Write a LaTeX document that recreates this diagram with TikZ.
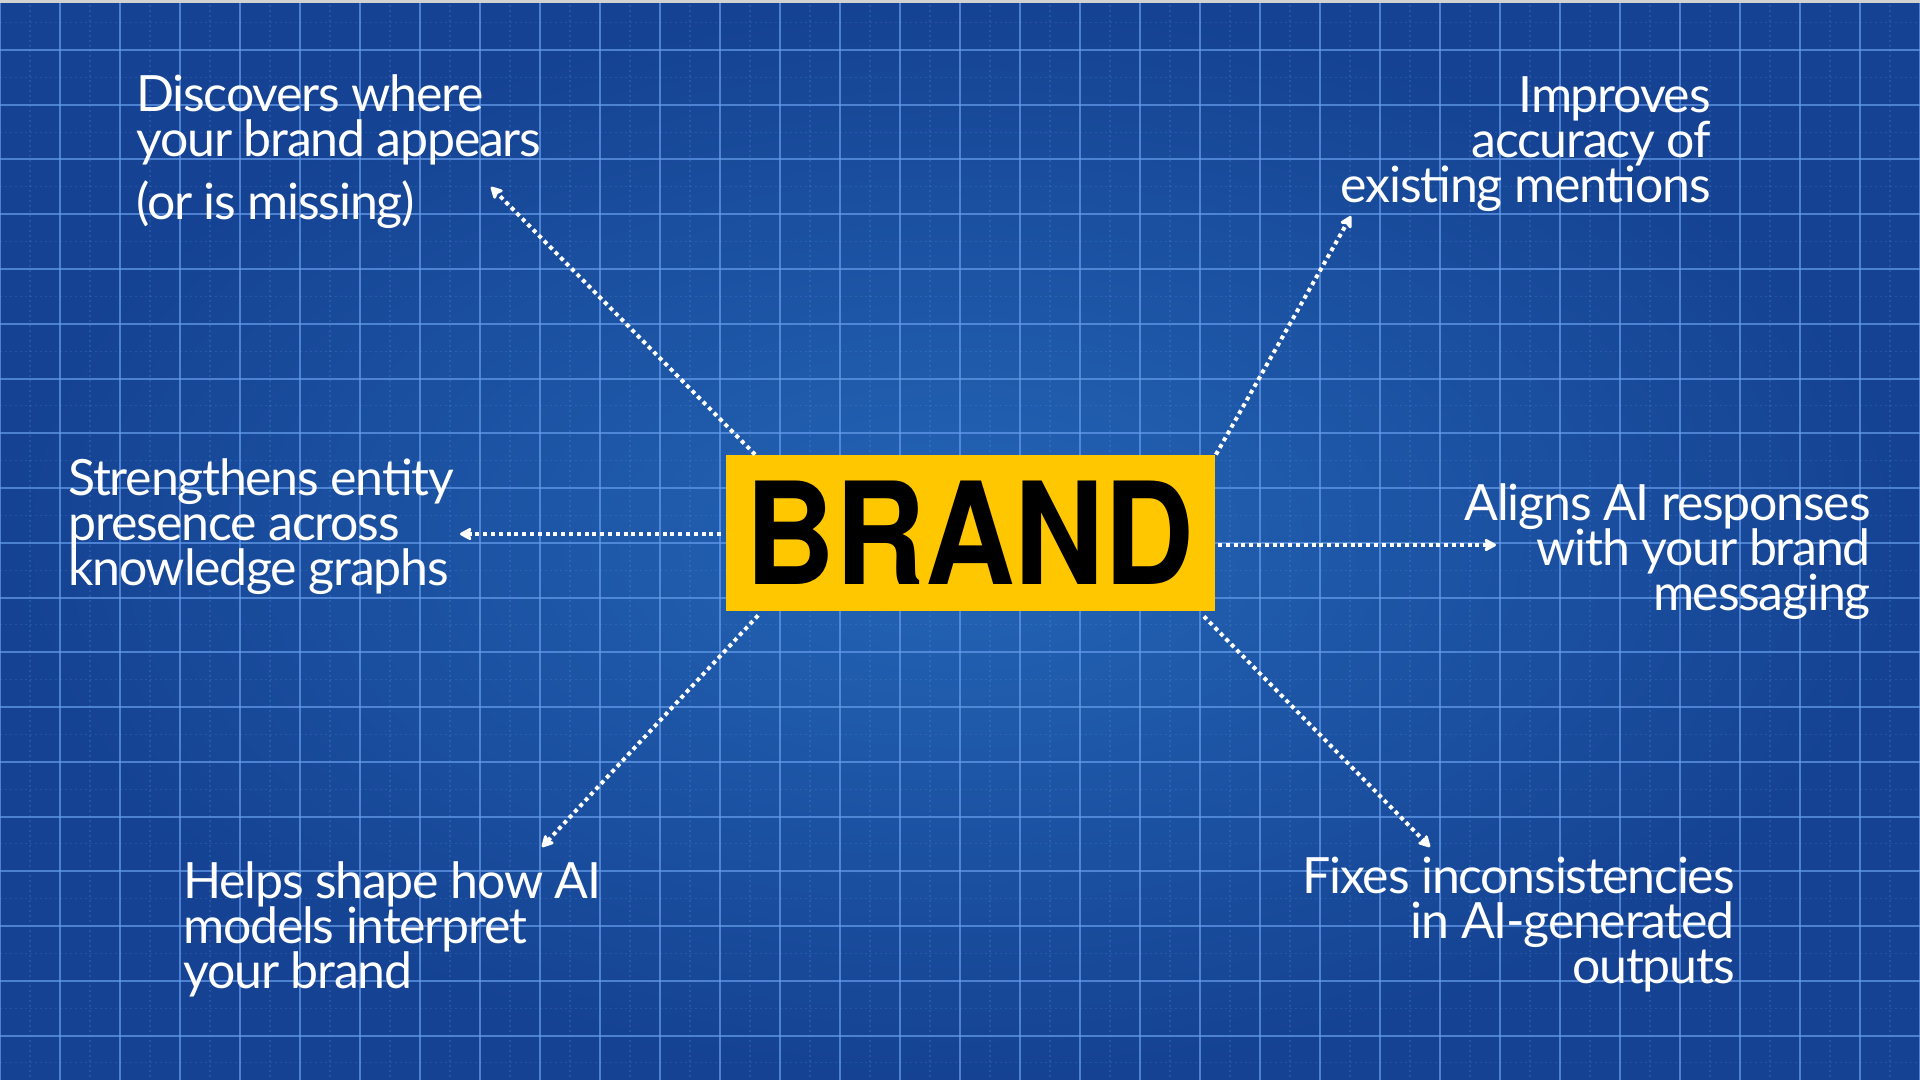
\documentclass[tikz,border=0pt]{standalone}
\usepackage{fontspec}
\usepackage{graphicx}
\setmainfont{Lato}[LetterSpace=-2.5]
\newfontfamily\brandfont{TeX Gyre Heros}
\usetikzlibrary{arrows.meta,calc}
\definecolor{bgin}{RGB}{36,101,182}
\definecolor{bgout}{RGB}{21,66,146}
\definecolor{gridc}{RGB}{100,155,235}
\definecolor{brandyellow}{RGB}{255,199,0}
\newcommand\sm[1]{\smash{#1}}
\tikzset{
  majorline/.style={draw=gridc, line width=1pt, opacity=0.7},
  minorline/.style={draw=gridc, line width=0.6pt, opacity=0.2, dash pattern=on 1pt off 1.5pt},
  lbl/.style={text=white, inner sep=0pt, font=\fontsize{25}{22.5}\selectfont},
  dotarrow/.style={draw=white, line width=2pt, dash pattern=on 2pt off 1.9pt,
    -{Stealth[length=7pt,width=7.5pt,inset=1.5pt,round]}},
  brandbox/.style={fill=brandyellow, inner sep=0pt, minimum width=244.5pt, minimum height=78pt,
    text=black, font=\brandfont\bfseries\fontsize{71}{71}\selectfont}
}
\begin{document}
\begin{tikzpicture}[x=0.5pt,y=-0.5pt]
\useasboundingbox (0,0) rectangle (1920,1080);
\shade[inner color=bgin, outer color=bgout] (0,0) rectangle (1920,1080);
% minor grid
\foreach \i in {0,...,31} \draw[minorline] (30+\i*60,0) -- (30+\i*60,1080);
\foreach \j in {-1,...,18} \draw[minorline] (0,77.375+\j*54.75) -- (1920,77.375+\j*54.75);
% major grid
\foreach \i in {0,...,32} \draw[majorline] (\i*60,0) -- (\i*60,1080);
\foreach \j in {0,...,18} \draw[majorline] (0,50+\j*54.75) -- (1920,50+\j*54.75);
\fill[gray!35] (0,0) rectangle (1920,3);

% central box
\node[brandbox] (brand) at (970,533) {\scalebox{0.875}[1]{BRAND}};

% labels
\node[lbl, anchor=base west] (tl) at (136,112)
  {\begin{tabular}[t]{@{}l@{}}\sm{Discovers where}\\\sm{your brand appears}\\[9pt]\sm{(or is missing)}\end{tabular}};
\node[lbl, anchor=base east] (tr) at (1711,113)
  {\begin{tabular}[t]{@{}r@{}}\sm{Improves}\\\sm{accuracy of}\\\sm{existing mentions}\end{tabular}};
\node[lbl, anchor=base west] (ml) at (68,495)
  {\begin{tabular}[t]{@{}l@{}}\sm{Strengthens entity}\\\sm{presence across}\\\sm{knowledge graphs}\end{tabular}};
\node[lbl, anchor=base east] (mr) at (1871,520)
  {\begin{tabular}[t]{@{}r@{}}\sm{Aligns AI responses}\\\sm{with your brand}\\\sm{messaging}\end{tabular}};
\node[lbl, anchor=base west] (bl) at (183,898)
  {\begin{tabular}[t]{@{}l@{}}\sm{Helps shape how AI}\\\sm{models interpret}\\\sm{your brand}\end{tabular}};
\node[lbl, anchor=base east] (br) at (1735,893)
  {\begin{tabular}[t]{@{}r@{}}\sm{Fixes inconsistencies}\\\sm{in AI-generated}\\\sm{outputs}\end{tabular}};

% arrow end points
\coordinate (s1) at ($(brand.north west)+(30,0)$);
\coordinate (t1) at (491,187);
\coordinate (s2) at ($(brand.north east)+(1,0)$);
\coordinate (t2) at (1351,216);
\coordinate (s3) at ($(brand.west)+(-4,1)$);
\coordinate (t3) at (460,534);
\coordinate (s4) at ($(brand.east)+(3,12)$);
\coordinate (t4) at (1496,545);
\coordinate (s5) at ($(brand.south west)+(33,4)$);
\coordinate (t5) at (542,847);
\coordinate (s6) at ($(brand.south east)+(-11,5)$);
\coordinate (t6) at (1430,847);

\draw[dotarrow] (s1) -- (t1);
\draw[dotarrow] (s2) -- (t2);
\draw[dotarrow] (s3) -- (t3);
\draw[dotarrow] (s4) -- (t4);
\draw[dotarrow] (s5) -- (t5);
\draw[dotarrow] (s6) -- (t6);
\end{tikzpicture}
\end{document}
